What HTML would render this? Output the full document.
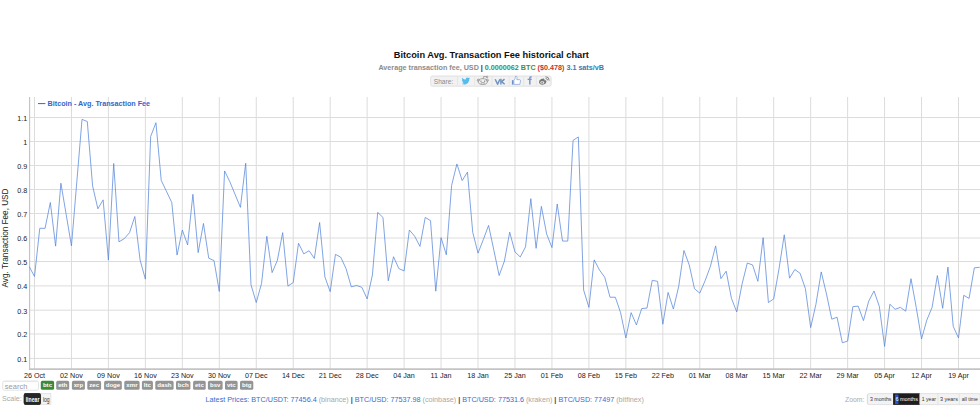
<!DOCTYPE html>
<html><head><meta charset="utf-8"><title>Bitcoin Avg. Transaction Fee historical chart</title>
<style>
html,body{margin:0;padding:0;background:#fff;}
body{width:980px;height:408px;overflow:hidden;position:relative;font-family:"Liberation Sans",sans-serif;}
svg{position:absolute;left:0;top:0;display:block;}
svg text{font-family:"Liberation Sans",sans-serif;}
</style></head><body>
<svg width="980" height="408" viewBox="0 0 980 408">

<text x="491.3" y="58.2" text-anchor="middle" font-size="9.25" font-weight="bold" fill="#111">Bitcoin Avg. Transaction Fee historical chart</text>
<text x="491.2" y="70.1" text-anchor="middle" font-size="7.2" font-weight="bold"><tspan fill="#8c8c8c">Average transaction fee, USD</tspan><tspan fill="#3a1530"> | </tspan><tspan fill="#3f8f3f">0.0000062 BTC</tspan><tspan fill="#c9302c"> ($0.478)</tspan><tspan fill="#337ab7"> 3.1 sats/vB</tspan></text>
<rect x="430.7" y="76.0" width="120.4" height="10.2" rx="1.6" fill="#f2f2f2" stroke="#dadada" stroke-width="0.8"/>
<line x1="457.5" y1="76.6" x2="457.5" y2="85.6" stroke="#e2e2e2" stroke-width="0.8"/>
<line x1="474.7" y1="76.6" x2="474.7" y2="85.6" stroke="#e2e2e2" stroke-width="0.8"/>
<line x1="492" y1="76.6" x2="492" y2="85.6" stroke="#e2e2e2" stroke-width="0.8"/>
<line x1="509.2" y1="76.6" x2="509.2" y2="85.6" stroke="#e2e2e2" stroke-width="0.8"/>
<line x1="523.8" y1="76.6" x2="523.8" y2="85.6" stroke="#e2e2e2" stroke-width="0.8"/>
<line x1="536.4" y1="76.6" x2="536.4" y2="85.6" stroke="#e2e2e2" stroke-width="0.8"/>
<text x="433.8" y="83.6" font-size="6.6" fill="#8a8a8a">Share:</text>
<g transform="translate(461.6,76.6) scale(0.36)"><path fill="#55bdee" d="M23.6 4.6c-.9.4-1.8.6-2.8.8 1-.6 1.8-1.6 2.2-2.7-1 .6-2 1-3.1 1.2-.9-1-2.2-1.6-3.6-1.6-2.7 0-4.9 2.2-4.9 4.9 0 .4 0 .8.1 1.1C7.4 8.1 3.8 6.2 1.4 3.2c-.4.7-.7 1.6-.7 2.5 0 1.7.9 3.2 2.2 4.1-.8 0-1.6-.2-2.2-.6v.1c0 2.4 1.7 4.4 3.9 4.8-.4.1-.8.2-1.3.2-.3 0-.6 0-.9-.1.6 2 2.4 3.4 4.6 3.4-1.7 1.3-3.8 2.1-6.1 2.1-.4 0-.8 0-1.2-.1 2.2 1.4 4.8 2.2 7.5 2.2 9.1 0 14-7.5 14-14v-.6c1-.7 1.8-1.6 2.4-2.5z"/></g>
<g fill="none" stroke="#8a8a8a" stroke-width="0.75"><ellipse cx="482.8" cy="81.6" rx="4.6" ry="2.9"/><circle cx="478.3" cy="80.2" r="1.1"/><circle cx="487.3" cy="80.2" r="1.1"/><path d="M482.9 78.7 L483.8 76.3 L486.4 76.9"/><circle cx="487.1" cy="76.9" r="0.8"/></g>
<g fill="#777"><circle cx="481" cy="81.2" r="0.65"/><circle cx="484.6" cy="81.2" r="0.65"/></g><path d="M480.7 83.2 Q482.8 82.1 484.9 83.2" fill="none" stroke="#888" stroke-width="0.9"/>
<g fill="none" stroke="#7093c2" stroke-width="1.5" stroke-linejoin="round"><path d="M495.2 79.2 L497.6 84.2 L499.9 79.2"/><path d="M500.9 78.8 V84.6"/><path d="M504.5 79.2 L501.6 81.6 L504.7 84.3"/></g>
<path d="M511.9 80.2 h1.6 v4.4 h-1.6z" fill="#6a90cc"/><path d="M513.9 80.3 L515.2 78.3 L515.5 76.3 Q516.9 76.0 517.1 77.6 L516.8 79.7 L519.8 79.7 Q520.8 80.1 520.5 81.1 L519.8 84.4 L513.9 84.4 Z" fill="#fff" stroke="#6a90cc" stroke-width="0.6" stroke-linejoin="round"/>
<path d="M529.1 84.6 V80.1 H527.6 V78.8 H529.1 V77.9 Q529.1 76.3 530.7 76.3 H531.8 V77.6 H531.0 Q530.6 77.6 530.6 78.1 V78.8 H531.8 L531.6 80.1 H530.6 V84.6 Z" fill="#7896cc"/>
<g><path d="M539 82.6 Q538.6 80.4 541.2 79.1 Q543.8 77.9 544.4 79.1 Q544.6 79.7 544.3 80.3 Q546.6 79.7 546.4 81.5 Q546.2 84.3 542.4 84.7 Q539.3 84.9 539 82.6 Z" fill="#777"/><ellipse cx="542.3" cy="82.6" rx="2.1" ry="1.4" fill="#e8e8e8"/><circle cx="542.1" cy="82.8" r="0.75" fill="#666"/><path d="M545.6 78.5 Q547.6 78.5 547.6 80.4" fill="none" stroke="#7a7a7a" stroke-width="0.85"/><path d="M545.4 76.7 Q549.3 76.8 549.2 80.6" fill="none" stroke="#7a7a7a" stroke-width="0.9"/></g>
<line x1="29" y1="358.40" x2="980" y2="358.40" stroke="#dcdcdc" stroke-width="1"/>
<line x1="29" y1="334.00" x2="980" y2="334.00" stroke="#dcdcdc" stroke-width="1"/>
<line x1="29" y1="310.20" x2="980" y2="310.20" stroke="#dcdcdc" stroke-width="1"/>
<line x1="29" y1="285.90" x2="980" y2="285.90" stroke="#dcdcdc" stroke-width="1"/>
<line x1="29" y1="261.50" x2="980" y2="261.50" stroke="#dcdcdc" stroke-width="1"/>
<line x1="29" y1="238.00" x2="980" y2="238.00" stroke="#dcdcdc" stroke-width="1"/>
<line x1="29" y1="213.50" x2="980" y2="213.50" stroke="#dcdcdc" stroke-width="1"/>
<line x1="29" y1="189.50" x2="980" y2="189.50" stroke="#dcdcdc" stroke-width="1"/>
<line x1="29" y1="165.50" x2="980" y2="165.50" stroke="#dcdcdc" stroke-width="1"/>
<line x1="29" y1="141.50" x2="980" y2="141.50" stroke="#dcdcdc" stroke-width="1"/>
<line x1="29" y1="117.50" x2="980" y2="117.50" stroke="#dcdcdc" stroke-width="1"/>
<line x1="34.50" y1="97" x2="34.50" y2="369" stroke="#dcdcdc" stroke-width="1"/>
<text x="34.50" y="377.8" text-anchor="middle" font-size="7.16" fill="#222">26 Oct</text>
<line x1="71.46" y1="97" x2="71.46" y2="369" stroke="#dcdcdc" stroke-width="1"/>
<text x="71.46" y="377.8" text-anchor="middle" font-size="7.16" fill="#222">02 Nov</text>
<line x1="108.42" y1="97" x2="108.42" y2="369" stroke="#dcdcdc" stroke-width="1"/>
<text x="108.42" y="377.8" text-anchor="middle" font-size="7.16" fill="#222">09 Nov</text>
<line x1="145.38" y1="97" x2="145.38" y2="369" stroke="#dcdcdc" stroke-width="1"/>
<text x="145.38" y="377.8" text-anchor="middle" font-size="7.16" fill="#222">16 Nov</text>
<line x1="182.34" y1="97" x2="182.34" y2="369" stroke="#dcdcdc" stroke-width="1"/>
<text x="182.34" y="377.8" text-anchor="middle" font-size="7.16" fill="#222">23 Nov</text>
<line x1="219.30" y1="97" x2="219.30" y2="369" stroke="#dcdcdc" stroke-width="1"/>
<text x="219.30" y="377.8" text-anchor="middle" font-size="7.16" fill="#222">30 Nov</text>
<line x1="256.26" y1="97" x2="256.26" y2="369" stroke="#dcdcdc" stroke-width="1"/>
<text x="256.26" y="377.8" text-anchor="middle" font-size="7.16" fill="#222">07 Dec</text>
<line x1="293.22" y1="97" x2="293.22" y2="369" stroke="#dcdcdc" stroke-width="1"/>
<text x="293.22" y="377.8" text-anchor="middle" font-size="7.16" fill="#222">14 Dec</text>
<line x1="330.18" y1="97" x2="330.18" y2="369" stroke="#dcdcdc" stroke-width="1"/>
<text x="330.18" y="377.8" text-anchor="middle" font-size="7.16" fill="#222">21 Dec</text>
<line x1="367.14" y1="97" x2="367.14" y2="369" stroke="#dcdcdc" stroke-width="1"/>
<text x="367.14" y="377.8" text-anchor="middle" font-size="7.16" fill="#222">28 Dec</text>
<line x1="404.10" y1="97" x2="404.10" y2="369" stroke="#dcdcdc" stroke-width="1"/>
<text x="404.10" y="377.8" text-anchor="middle" font-size="7.16" fill="#222">04 Jan</text>
<line x1="441.06" y1="97" x2="441.06" y2="369" stroke="#dcdcdc" stroke-width="1"/>
<text x="441.06" y="377.8" text-anchor="middle" font-size="7.16" fill="#222">11 Jan</text>
<line x1="478.02" y1="97" x2="478.02" y2="369" stroke="#dcdcdc" stroke-width="1"/>
<text x="478.02" y="377.8" text-anchor="middle" font-size="7.16" fill="#222">18 Jan</text>
<line x1="514.98" y1="97" x2="514.98" y2="369" stroke="#dcdcdc" stroke-width="1"/>
<text x="514.98" y="377.8" text-anchor="middle" font-size="7.16" fill="#222">25 Jan</text>
<line x1="551.94" y1="97" x2="551.94" y2="369" stroke="#dcdcdc" stroke-width="1"/>
<text x="551.94" y="377.8" text-anchor="middle" font-size="7.16" fill="#222">01 Feb</text>
<line x1="588.90" y1="97" x2="588.90" y2="369" stroke="#dcdcdc" stroke-width="1"/>
<text x="588.90" y="377.8" text-anchor="middle" font-size="7.16" fill="#222">08 Feb</text>
<line x1="625.86" y1="97" x2="625.86" y2="369" stroke="#dcdcdc" stroke-width="1"/>
<text x="625.86" y="377.8" text-anchor="middle" font-size="7.16" fill="#222">15 Feb</text>
<line x1="662.82" y1="97" x2="662.82" y2="369" stroke="#dcdcdc" stroke-width="1"/>
<text x="662.82" y="377.8" text-anchor="middle" font-size="7.16" fill="#222">22 Feb</text>
<line x1="699.78" y1="97" x2="699.78" y2="369" stroke="#dcdcdc" stroke-width="1"/>
<text x="699.78" y="377.8" text-anchor="middle" font-size="7.16" fill="#222">01 Mar</text>
<line x1="736.74" y1="97" x2="736.74" y2="369" stroke="#dcdcdc" stroke-width="1"/>
<text x="736.74" y="377.8" text-anchor="middle" font-size="7.16" fill="#222">08 Mar</text>
<line x1="773.70" y1="97" x2="773.70" y2="369" stroke="#dcdcdc" stroke-width="1"/>
<text x="773.70" y="377.8" text-anchor="middle" font-size="7.16" fill="#222">15 Mar</text>
<line x1="810.66" y1="97" x2="810.66" y2="369" stroke="#dcdcdc" stroke-width="1"/>
<text x="810.66" y="377.8" text-anchor="middle" font-size="7.16" fill="#222">22 Mar</text>
<line x1="847.62" y1="97" x2="847.62" y2="369" stroke="#dcdcdc" stroke-width="1"/>
<text x="847.62" y="377.8" text-anchor="middle" font-size="7.16" fill="#222">29 Mar</text>
<line x1="884.58" y1="97" x2="884.58" y2="369" stroke="#dcdcdc" stroke-width="1"/>
<text x="884.58" y="377.8" text-anchor="middle" font-size="7.16" fill="#222">05 Apr</text>
<line x1="921.54" y1="97" x2="921.54" y2="369" stroke="#dcdcdc" stroke-width="1"/>
<text x="921.54" y="377.8" text-anchor="middle" font-size="7.16" fill="#222">12 Apr</text>
<line x1="958.50" y1="97" x2="958.50" y2="369" stroke="#dcdcdc" stroke-width="1"/>
<text x="958.50" y="377.8" text-anchor="middle" font-size="7.16" fill="#222">19 Apr</text>
<line x1="29.6" y1="97" x2="29.6" y2="369.6" stroke="#c2c2c2" stroke-width="1.1"/>
<line x1="28.9" y1="369.1" x2="980" y2="369.1" stroke="#c4c4c4" stroke-width="1.6"/>
<text x="27.3" y="361.80" text-anchor="end" font-size="7.16" fill="#222">0.1</text>
<text x="27.3" y="337.40" text-anchor="end" font-size="7.16" fill="#222">0.2</text>
<text x="27.3" y="313.60" text-anchor="end" font-size="7.16" fill="#222">0.3</text>
<text x="27.3" y="289.30" text-anchor="end" font-size="7.16" fill="#222">0.4</text>
<text x="27.3" y="264.90" text-anchor="end" font-size="7.16" fill="#222">0.5</text>
<text x="27.3" y="241.40" text-anchor="end" font-size="7.16" fill="#222">0.6</text>
<text x="27.3" y="216.90" text-anchor="end" font-size="7.16" fill="#222">0.7</text>
<text x="27.3" y="192.90" text-anchor="end" font-size="7.16" fill="#222">0.8</text>
<text x="27.3" y="168.90" text-anchor="end" font-size="7.16" fill="#222">0.9</text>
<text x="27.3" y="144.90" text-anchor="end" font-size="7.16" fill="#222">1</text>
<text x="27.3" y="120.90" text-anchor="end" font-size="7.16" fill="#222">1.1</text>
<text transform="translate(7.7,238) rotate(-90)" text-anchor="middle" font-size="8.18" fill="#222">Avg. Transaction Fee, USD</text>
<line x1="38" y1="103.6" x2="45.4" y2="103.6" stroke="#3366cc" stroke-width="1"/>
<text x="47.6" y="105.9" font-size="7.19" font-weight="bold" fill="#3366cc">Bitcoin - Avg. Transaction Fee</text>
<polyline points="29.22,266.62 34.50,276.50 39.78,228.30 45.06,228.30 50.34,202.51 55.62,246.14 60.90,183.23 66.18,214.56 71.46,245.89 76.74,182.75 82.02,119.37 87.30,121.54 92.58,185.89 97.86,208.78 103.14,199.86 108.42,260.11 113.70,163.47 118.98,241.80 124.26,238.66 129.54,232.64 134.82,216.49 140.10,260.11 145.38,279.15 150.66,136.48 155.94,122.74 161.22,180.34 166.50,191.43 171.78,202.51 177.06,255.05 182.34,229.99 187.62,244.93 192.90,194.32 198.18,252.64 203.46,223.48 208.74,258.19 214.02,260.60 219.30,291.44 224.58,170.94 229.86,181.79 235.14,194.56 240.42,207.33 245.70,163.23 250.98,284.69 256.26,302.53 261.54,283.49 266.82,236.25 272.10,272.64 277.38,260.35 282.66,232.64 287.94,286.14 293.22,282.53 298.50,243.24 303.78,253.85 309.06,250.71 314.34,258.43 319.62,222.52 324.90,276.98 330.18,291.68 335.46,254.33 340.74,257.22 346.02,268.55 351.30,286.86 356.58,285.42 361.86,287.35 367.14,298.91 372.42,275.06 377.70,212.40 382.98,217.46 388.26,280.84 393.54,256.74 398.82,268.55 404.10,270.96 409.38,229.99 414.66,236.25 419.94,246.38 425.22,217.46 430.50,220.59 435.78,291.20 441.06,237.70 446.34,254.81 451.62,185.40 456.90,163.95 462.18,180.58 467.46,172.15 472.74,232.40 478.02,253.12 483.30,239.63 488.58,225.41 493.86,250.23 499.14,275.54 504.42,261.08 509.70,232.16 514.98,251.92 520.26,256.98 525.54,246.86 530.82,198.66 536.10,248.30 541.38,206.37 546.66,234.09 551.94,247.58 557.22,203.96 562.50,241.07 567.78,241.07 573.06,140.34 578.34,136.96 583.62,290.00 588.90,307.35 594.18,259.87 599.46,269.99 604.74,277.22 610.02,297.23 615.30,297.23 620.58,312.65 625.86,337.96 631.14,312.65 636.42,324.94 641.70,308.55 646.98,308.07 652.26,280.36 657.54,281.32 662.82,324.22 668.10,292.41 673.38,309.04 678.66,286.62 683.94,250.47 689.22,264.93 694.50,288.79 699.78,293.13 705.06,280.84 710.34,266.62 715.62,245.89 720.90,278.67 726.18,271.20 731.46,298.43 736.74,311.93 742.02,284.21 747.30,263.00 752.58,264.93 757.86,281.32 763.14,237.70 768.42,302.53 773.70,298.91 778.98,269.03 784.26,234.81 789.54,278.19 794.82,269.51 800.10,273.37 805.38,288.55 810.66,327.59 815.94,304.22 821.22,271.92 826.50,294.09 831.78,319.16 837.06,317.23 842.34,342.78 847.62,341.09 852.90,306.63 858.18,306.14 863.46,320.60 868.74,301.08 874.02,290.96 879.30,306.38 884.58,346.39 889.86,304.22 895.14,309.28 900.42,307.35 905.70,311.21 910.98,278.67 916.26,307.59 921.54,338.92 926.82,320.12 932.10,307.35 937.38,275.54 942.66,308.31 947.94,267.10 953.22,326.39 958.50,337.96 963.78,295.30 969.06,298.43 974.34,267.83 979.62,267.34" fill="none" stroke="#5585db" stroke-width="0.75" stroke-linejoin="miter"/>
<rect x="2.7" y="381.0" width="35.8" height="9.2" rx="1.8" fill="#fff" stroke="#d8d8d8" stroke-width="0.7"/>
<line x1="3.6" y1="381.6" x2="37.6" y2="381.6" stroke="#e4e4e4" stroke-width="0.9"/>
<text x="4.8" y="388.9" font-size="7.5" fill="#999">search</text>
<rect x="40.8" y="380.8" width="13.30" height="9" rx="1.6" fill="#3a8a3a"/>
<text x="47.45" y="387.3" text-anchor="middle" font-size="6.1" font-weight="bold" fill="#fff">btc</text>
<rect x="56.2" y="380.8" width="13.00" height="9" rx="1.6" fill="#949494"/>
<text x="62.70" y="387.3" text-anchor="middle" font-size="6.1" font-weight="bold" fill="#fff">eth</text>
<rect x="71.9" y="380.8" width="13.00" height="9" rx="1.6" fill="#949494"/>
<text x="78.40" y="387.3" text-anchor="middle" font-size="6.1" font-weight="bold" fill="#fff">xrp</text>
<rect x="87.3" y="380.8" width="13.80" height="9" rx="1.6" fill="#949494"/>
<text x="94.20" y="387.3" text-anchor="middle" font-size="6.1" font-weight="bold" fill="#fff">zec</text>
<rect x="104.1" y="380.8" width="17.70" height="9" rx="1.6" fill="#949494"/>
<text x="112.95" y="387.3" text-anchor="middle" font-size="6.1" font-weight="bold" fill="#fff">doge</text>
<rect x="124.3" y="380.8" width="15.30" height="9" rx="1.6" fill="#949494"/>
<text x="131.95" y="387.3" text-anchor="middle" font-size="6.1" font-weight="bold" fill="#fff">xmr</text>
<rect x="141.9" y="380.8" width="11.00" height="9" rx="1.6" fill="#949494"/>
<text x="147.40" y="387.3" text-anchor="middle" font-size="6.1" font-weight="bold" fill="#fff">ltc</text>
<rect x="155.3" y="380.8" width="18.30" height="9" rx="1.6" fill="#949494"/>
<text x="164.45" y="387.3" text-anchor="middle" font-size="6.1" font-weight="bold" fill="#fff">dash</text>
<rect x="176" y="380.8" width="14.40" height="9" rx="1.6" fill="#949494"/>
<text x="183.20" y="387.3" text-anchor="middle" font-size="6.1" font-weight="bold" fill="#fff">bch</text>
<rect x="193.1" y="380.8" width="12.60" height="9" rx="1.6" fill="#949494"/>
<text x="199.40" y="387.3" text-anchor="middle" font-size="6.1" font-weight="bold" fill="#fff">etc</text>
<rect x="207.9" y="380.8" width="14.70" height="9" rx="1.6" fill="#949494"/>
<text x="215.25" y="387.3" text-anchor="middle" font-size="6.1" font-weight="bold" fill="#fff">bsv</text>
<rect x="225" y="380.8" width="12.60" height="9" rx="1.6" fill="#949494"/>
<text x="231.30" y="387.3" text-anchor="middle" font-size="6.1" font-weight="bold" fill="#fff">vtc</text>
<rect x="240" y="380.8" width="13.30" height="9" rx="1.6" fill="#949494"/>
<text x="246.65" y="387.3" text-anchor="middle" font-size="6.1" font-weight="bold" fill="#fff">btg</text>
<text x="2" y="401.1" font-size="7.1" fill="#aaaaaa">Scale:</text>
<rect x="23.8" y="393.3" width="17.1" height="11.4" rx="1.6" fill="#262626"/>
<rect x="40.9" y="393.6" width="10" height="10.8" fill="#f4f4f4" stroke="#d6d6d6" stroke-width="0.6"/>
<rect x="23.8" y="393.3" width="17.1" height="11.4" rx="1.6" fill="#262626"/>
<text x="25.7" y="401.9" font-size="6.6" font-weight="bold" fill="#fff" textLength="13.7" lengthAdjust="spacingAndGlyphs">linear</text>
<text x="42.9" y="401.9" font-size="6.6" fill="#333" textLength="6.8" lengthAdjust="spacingAndGlyphs">log</text>
<text x="205.6" y="401.7" font-size="7.22" fill="#3a6ccc" textLength="438.2" lengthAdjust="spacing">Latest Prices: BTC/USDT: 77456.4 <tspan fill="#a8a8a8">(binance)</tspan> <tspan fill="#444" font-weight="bold">|</tspan> BTC/USD: 77537.98 <tspan fill="#a8a8a8">(coinbase)</tspan> <tspan fill="#444" font-weight="bold">|</tspan> BTC/USD: 77531.6 <tspan fill="#a8a8a8">(kraken)</tspan> <tspan fill="#444" font-weight="bold">|</tspan> BTC/USD: 77497 <tspan fill="#a8a8a8">(bitfinex)</tspan></text>
<text x="845" y="401.6" font-size="6.9" fill="#aaaaaa">Zoom:</text>
<rect x="867.4" y="393.6" width="113" height="11" rx="1.6" fill="#f3f3f3" stroke="#d2d2d2" stroke-width="0.6"/>
<line x1="867.4" y1="393.9" x2="867.4" y2="404.3" stroke="#d6d6d6" stroke-width="0.6"/>
<text x="870" y="401.4" font-size="6.1" fill="#333" textLength="21.40" lengthAdjust="spacingAndGlyphs">3 months</text>
<rect x="893.1" y="393.3" width="26.60" height="11.6" fill="#1e1e1e"/>
<rect x="895" y="394.6" width="3.4" height="9.4" fill="#2255d5"/>
<text x="895.4" y="401.4" font-size="6.1" fill="#fff" textLength="22.50" lengthAdjust="spacingAndGlyphs">6 months</text>
<line x1="919.7" y1="393.9" x2="919.7" y2="404.3" stroke="#d6d6d6" stroke-width="0.6"/>
<text x="921.7" y="401.4" font-size="6.1" fill="#333" textLength="14.30" lengthAdjust="spacingAndGlyphs">1 year</text>
<line x1="937.9" y1="393.9" x2="937.9" y2="404.3" stroke="#d6d6d6" stroke-width="0.6"/>
<text x="940" y="401.4" font-size="6.1" fill="#333" textLength="17.90" lengthAdjust="spacingAndGlyphs">3 years</text>
<line x1="959.3" y1="393.9" x2="959.3" y2="404.3" stroke="#d6d6d6" stroke-width="0.6"/>
<text x="961.7" y="401.4" font-size="6.1" fill="#333" textLength="16.20" lengthAdjust="spacingAndGlyphs">all time</text>
</svg>
</body></html>
